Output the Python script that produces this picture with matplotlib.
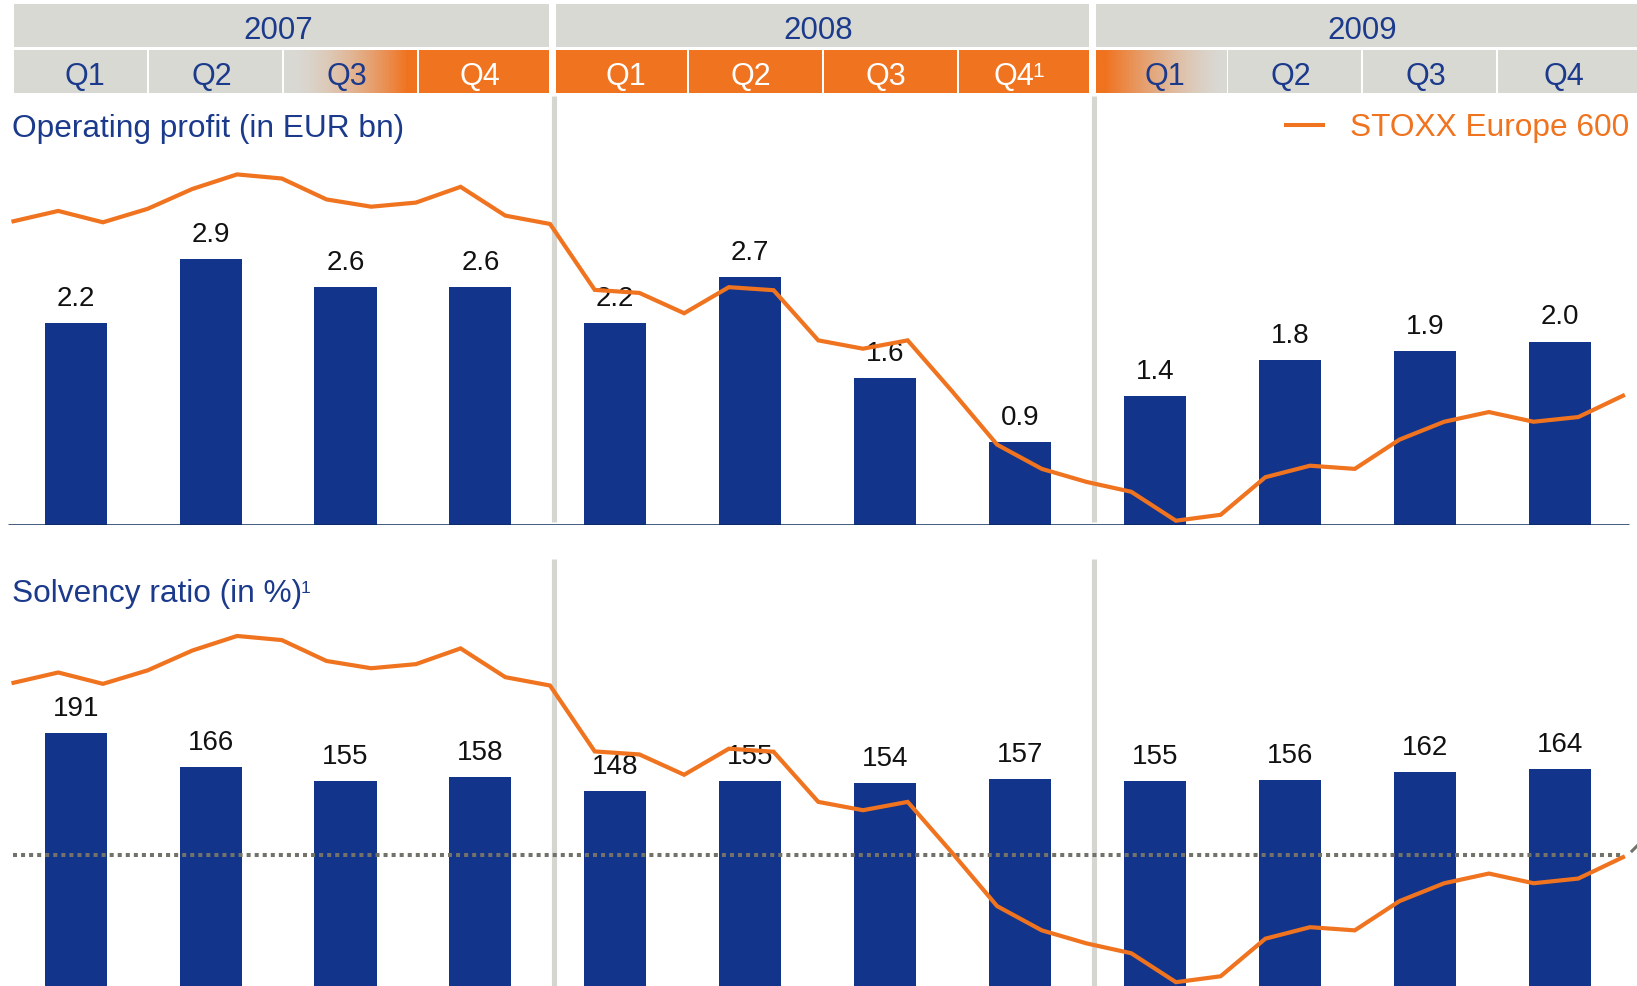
import numpy as np
import matplotlib
matplotlib.use("Agg")
import matplotlib.pyplot as plt
from matplotlib.patches import Rectangle

# ---------------- data ----------------
years = ["2007", "2008", "2009"]
quarters = ["Q1", "Q2", "Q3", "Q4", "Q1", "Q2", "Q3", "Q4", "Q1", "Q2", "Q3", "Q4"]
quarter_notes = ["", "", "", "", "", "", "", "1", "", "", "", ""]
quarter_style = ["grey", "grey", "grey_to_orange", "orange",
                 "orange", "orange", "orange", "orange",
                 "orange_to_grey", "grey", "grey", "grey"]
operating_profit = [2.2, 2.9, 2.6, 2.6, 2.2, 2.7, 1.6, 0.9, 1.4, 1.8, 1.9, 2.0]
profit_labels = ["2.2", "2.9", "2.6", "2.6", "2.2", "2.7", "1.6", "0.9", "1.4", "1.8", "1.9", "2.0"]
solvency_ratio = [191, 166, 155, 158, 148, 155, 154, 157, 155, 156, 162, 164]
solvency_reference = 100
# STOXX Europe 600 month-end index level (Dec 2006 .. Dec 2009)
stoxx_600 = [367.0, 373.8, 366.3, 375.2, 388.3, 397.9, 395.2, 381.4, 376.6, 379.3,
             389.7, 370.7, 365.2, 321.7, 319.7, 306.3, 323.5, 321.5, 288.4, 282.9,
             288.4, 254.6, 219.6, 203.6, 195.0, 188.5, 169.4, 173.3, 198.1, 205.7,
             203.6, 222.9, 234.7, 241.1, 234.7, 237.8, 251.9]
legend_label = "STOXX Europe 600"
title_top = "Operating profit (in EUR bn)"
title_bottom = "Solvency ratio (in %)"
title_bottom_note = "1"

# ---------------- style ----------------
W, H, DPI = 1637, 987, 100
GREY = "#d9d9d4"
ORANGE = "#f0731f"
NAVY_TEXT = "#1b3a8c"
BAR = "#12348a"
BASE = "#0c2a5c"
SEP = "#d6d6d1"
DOT = "#72726a"
FONT = "Liberation Sans"

plt.rcParams["font.family"] = [FONT, "DejaVu Sans"]

fig = plt.figure(figsize=(W / DPI, H / DPI), dpi=DPI)
fig.patch.set_facecolor("white")

X0_PX, STEP_PX = 75.7, 134.9           # pixel centre of first bar, spacing
xlim = (-X0_PX / STEP_PX, (W - X0_PX) / STEP_PX)
idx = np.arange(len(quarters))
months_x = np.linspace(-0.461, 11.47, len(stoxx_600))


def rect_px(top, bottom):
    return [0, 1 - bottom / H, 1, (bottom - top) / H]


# ---------------- header ----------------
hax = fig.add_axes(rect_px(0, 100))
hax.set_xlim(*xlim)
hax.set_ylim(100, 0)
hax.axis("off")

g = np.array(matplotlib.colors.to_rgb(GREY))
o = np.array(matplotlib.colors.to_rgb(ORANGE))


def cell_bounds(q):
    left = q - 0.455 + (0.018 if (q % 4 == 0 and q > 0) else 0.0)
    right = q + 0.53 - (0.018 if q % 4 == 3 else 0.0)
    if q == len(quarters) - 1:
        right = xlim[1]
    return left, right


for yi, yr in enumerate(years):
    l, _ = cell_bounds(4 * yi)
    _, r = cell_bounds(4 * yi + 3)
    hax.add_patch(Rectangle((l, 5), r - l, 43, color=GREY, lw=0))
    hax.text((l + r) / 2 - 0.03, 39, yr, ha="center", va="baseline",
             fontsize=22.5, color=NAVY_TEXT)

note_texts = []
for q, lab in enumerate(quarters):
    l, r = cell_bounds(q)
    st = quarter_style[q]
    if st in ("grey", "orange"):
        hax.add_patch(Rectangle((l, 51), r - l, 43, color=GREY if st == "grey" else ORANGE, lw=0))
    else:
        u = np.linspace(0, 1, 300)
        if st == "grey_to_orange":
            t = np.clip((u - 0.05) / 0.88, 0, 1) ** 1.6
        else:
            t = np.clip((0.97 - u) / 0.9, 0, 1) ** 1.4
        cols = g[None, :] * (1 - t[:, None]) + o[None, :] * t[:, None]
        img = np.repeat(cols[None, :, :], 2, axis=0)
        hax.imshow(img, extent=(l, r, 94, 51), aspect="auto", interpolation="bilinear")
    tc = "white" if st == "orange" else NAVY_TEXT
    dx = -0.03
    if lab == "Q1":
        dx = 0.03
    if quarter_notes[q]:
        dx = -0.075
    txt = hax.text((l + r) / 2 + dx, 85, lab, ha="center", va="baseline",
                   fontsize=22, color=tc)
    if quarter_notes[q]:
        note_texts.append((txt, quarter_notes[q], tc))
hax.set_xlim(*xlim)
hax.set_ylim(100, 0)

# ---------------- top panel ----------------
TOP_T, TOP_B, TOP_SCALE = 101, 525.5, 91.5
ax1 = fig.add_axes(rect_px(TOP_T, TOP_B))
ax1.set_xlim(*xlim)
ax1.set_ylim(0, (TOP_B - TOP_T) / TOP_SCALE)
ax1.axis("off")
ax1.bar(idx, operating_profit, width=0.46, color=BAR, zorder=2)
for x, v, s in zip(idx, operating_profit, profit_labels):
    ax1.annotate(s, (x, v), xytext=(0, 13), textcoords="offset points",
                 ha="center", va="baseline", fontsize=20, color="#111111", zorder=3)
ax1.plot([(8 - X0_PX) / STEP_PX, (1629 - X0_PX) / STEP_PX], [0, 0],
         color=BASE, lw=1.8, zorder=4, solid_capstyle="butt")
for sx in (3.542, 7.545):
    ax1.plot([sx, sx], [(TOP_B - 97) / TOP_SCALE, (TOP_B - 523) / TOP_SCALE],
             color=SEP, lw=3.7, zorder=1, clip_on=False, solid_capstyle="butt")

t1 = ax1.twinx()
t1.set_ylim(166.9, 447.0)
t1.set_xlim(*xlim)
t1.axis("off")
t1.plot(months_x, stoxx_600, color=ORANGE, lw=3.0, zorder=5, clip_on=False,
        solid_joinstyle="miter")

# ---------------- bottom panel ----------------
BOT_T, BOT_B, BOT_SCALE = 560, 990, 1.34
ax2 = fig.add_axes(rect_px(BOT_T, BOT_B))
ax2.set_xlim(*xlim)
ax2.set_ylim(0, (BOT_B - BOT_T) / BOT_SCALE)
ax2.axis("off")
ax2.bar(idx, solvency_ratio, width=0.46, color=BAR, zorder=2)
for x, v in zip(idx, solvency_ratio):
    ax2.annotate(str(v), (x, v), xytext=(0, 13), textcoords="offset points",
                 ha="center", va="baseline", fontsize=20, color="#111111", zorder=3)
for sx in (3.542, 7.545):
    ax2.plot([sx, sx], [(BOT_B - 560) / BOT_SCALE, (BOT_B - 987) / BOT_SCALE],
             color=SEP, lw=3.7, zorder=1, clip_on=False, solid_capstyle="butt")
ax2.plot([(13 - X0_PX) / STEP_PX, (1622 - X0_PX) / STEP_PX],
         [solvency_reference, solvency_reference],
         color=DOT, lw=2.9, linestyle=(0, (1, 1)), dash_capstyle="butt", zorder=4)
ax2.plot([(1632 - X0_PX) / STEP_PX, (1637 - X0_PX) / STEP_PX],
         [(BOT_B - 852) / BOT_SCALE, (BOT_B - 847) / BOT_SCALE],
         color=DOT, lw=2.2, zorder=4, clip_on=False)

t2 = ax2.twinx()
t2.set_ylim(164.9, 448.7)
t2.set_xlim(*xlim)
t2.axis("off")
t2.plot(months_x, stoxx_600, color=ORANGE, lw=3.0, zorder=5, clip_on=False,
        solid_joinstyle="miter")

# ---------------- titles & legend ----------------
fig.text(12 / W, 1 - 137 / H, title_top, fontsize=22.8, color=NAVY_TEXT,
         ha="left", va="baseline")
tb = fig.text(12 / W, 1 - 602 / H, title_bottom, fontsize=22.8, color=NAVY_TEXT,
              ha="left", va="baseline")
fig.add_artist(plt.Line2D([1284 / W, 1325 / W], [1 - 125.7 / H, 1 - 125.7 / H],
                          color=ORANGE, lw=2.9, solid_capstyle="butt"))
fig.text(1350 / W, 1 - 136 / H, legend_label, fontsize=22.8, color=ORANGE,
         ha="left", va="baseline")

# footnote markers placed right after their texts
fig.canvas.draw()
renderer = fig.canvas.get_renderer()
bb = tb.get_window_extent(renderer)
fig.text((bb.x1 - 1) / W, 1 - 593 / H, title_bottom_note, fontsize=12.5,
         color=NAVY_TEXT, ha="left", va="baseline")
for txt, note, col in note_texts:
    bb = txt.get_window_extent(renderer)
    fig.text((bb.x1 - 2) / W, 1 - 77 / H, note, fontsize=15, color=col,
             ha="left", va="baseline")

fig.savefig("out.png", dpi=DPI, facecolor="white")
